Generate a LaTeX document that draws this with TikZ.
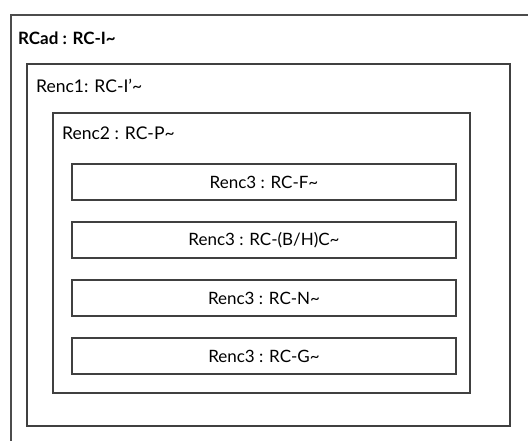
\documentclass[tikz,border=0pt]{standalone}
\usepackage{fontspec}
\setmainfont{Lato}
\newfontfamily\bodyserif{Liberation Serif}
\begin{document}
\begin{tikzpicture}[x=1pt,y=-1pt,
  frame/.style={draw=black!75,line width=1.3pt},
  inner/.style={frame,minimum width=384pt,minimum height=36pt,inner sep=0pt,font=\fontsize{17}{19}\selectfont},
  lbl/.style={anchor=west,inner sep=0pt,font=\fontsize{17.5}{19}\selectfont}]
\useasboundingbox (0,0) rectangle (528,440);
\clip (0,0) rectangle (528,440);
\fill[white] (0,0) rectangle (528,440);
% cut-off line of surrounding text
\node[anchor=base east,inner sep=0pt,text=black!50,font=\bodyserif\fontsize{28}{30}\selectfont] (cut) at (264,-6.5) {rules of the nested regions (see diagram)};
% outer box (runs past right and bottom)
\draw[draw=black!70,line width=1.8pt] (11,445) -- (11,15) -- (535,15);
\node[lbl,font=\bfseries\fontsize{17}{19}\selectfont] (rcad) at (18,38) {RCad : RC-I\textasciitilde};
% Renc1
\draw[frame] (27,64) rectangle (510,426);
\node[lbl] (renc1) at (36,86) {Renc1: RC-I’\textasciitilde};
% Renc2
\draw[frame] (53,113) rectangle (470,393);
\node[lbl] (renc2) at (62,133) {Renc2 : RC-P\textasciitilde};
% Renc3 boxes
\node[inner] (f) at (264,182) {Renc3 : RC-F\textasciitilde};
\node[inner] (bh) at (264,240) {Renc3 : RC-(B/H)C\textasciitilde};
\node[inner] (n) at (264,298) {Renc3 : RC-N\textasciitilde};
\node[inner] (g) at (264,356) {Renc3 : RC-G\textasciitilde};
\end{tikzpicture}
\end{document}
